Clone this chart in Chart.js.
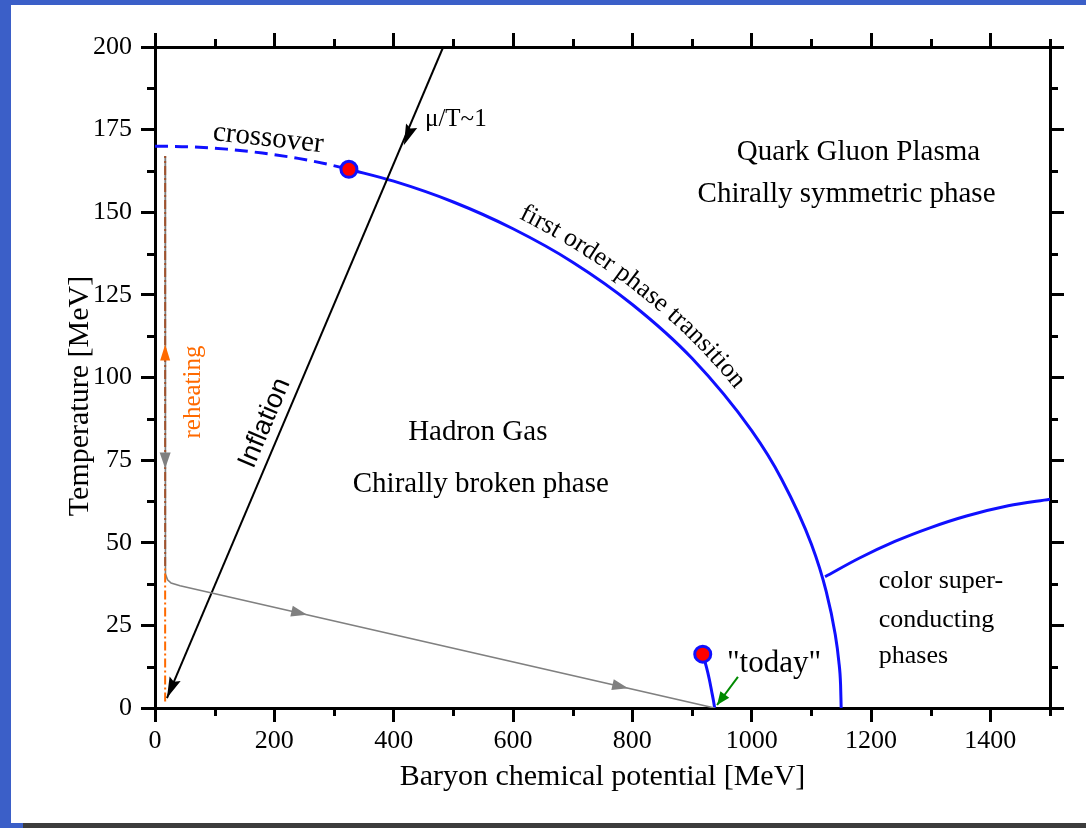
<!DOCTYPE html>
<html lang="en">
<head>
<meta charset="UTF-8">
<title>QCD phase diagram</title>
<script src="https://cdn.jsdelivr.net/npm/chart.js@4.4.1/dist/chart.umd.min.js"></script>
<style>
  html, body { margin: 0; padding: 0; }
  body { width: 1086px; height: 828px; background: #3b5fc8; position: relative; overflow: hidden; }
  #sheet { position: absolute; left: 11px; top: 5px; width: 1075px; height: 818px; background: #fff; }
  #foot { position: absolute; left: 23px; top: 823px; width: 1063px; height: 5px; background: #3c3c3c; }
  canvas { position: absolute; left: 0; top: 0; }
</style>
</head>
<body>
<div id="sheet"></div>
<div id="foot"></div>
<canvas id="c" width="1086" height="828"></canvas>
<script>
  // values (mu in MeV, T in MeV)
  const crossoverMu = [0, 60, 120, 180, 240, 290, 325];
  const crossoverT = [170, 169.8, 169.1, 167.9, 166.3, 164.5, 163];
  const firstOrderMu = [325, 400, 500, 600, 700, 800, 900, 1000, 1050, 1100, 1125, 1140, 1146, 1149, 1150];
  const firstOrderT = [163, 159.4, 153.1, 145.0, 134.9, 122.1, 105.8, 83.9, 69.3, 49.6, 35.2, 22.3, 14.2, 7.1, 0];
  const colorSupMu = [1123, 1180, 1240, 1300, 1360, 1430, 1500];
  const colorSupT = [39.7, 45.3, 50.4, 54.6, 58.1, 61.2, 63.2];
  const todayMu = [918, 924, 929, 933, 936, 938];
  const todayT = [16.3, 12.5, 8.7, 5.0, 2.2, 0];
  const inflationMu = [483, 20];
  const inflationT = [200, 3];
  const coolingMu = [17, 17, 18, 21, 27, 42, 938];
  const coolingT = [167, 43, 40.5, 38.8, 37.8, 37, 0];
  const reheatMu = [17, 17, 17];
  const reheatT = [2, 43, 167];
  const todayArrowMu = [977, 942];
  const todayArrowT = [9.4, 0.9];
  const criticalMu = [325, 918];
  const criticalT = [163, 16.3];

  const xTicks = [0, 200, 400, 600, 800, 1000, 1200, 1400];
  const yTicks = [0, 25, 50, 75, 100, 125, 150, 175, 200];
  const xMinor = [100, 300, 500, 700, 900, 1100, 1300, 1500];
  const yMinor = [12.5, 37.5, 62.5, 87.5, 112.5, 137.5, 162.5, 187.5];

  const BLUE = '#1010ff';
  const ORANGE = '#ff6a00';
  const GRAY = '#808080';
  const SERIF = 'Liberation Serif';

  const pts = (xs, ys) => xs.map((x, i) => ({x: x, y: ys[i]}));

  // arrow heads: tip and a point behind it (data coords)
  const arrows = [
    {tip: [417, 170.3], from: [483, 200], color: '#000', len: 21, w: 12, notch: 0.85},
    {tip: [20, 3], from: [483, 200], color: '#000', len: 21, w: 12, notch: 0.85},
    {tip: [17, 72.5], from: [17, 100], color: GRAY, len: 16, w: 11},
    {tip: [17, 110], from: [17, 90], color: ORANGE, len: 16, w: 10},
    {tip: [255, 28.2], from: [42, 37], color: GRAY, len: 16, w: 11},
    {tip: [793, 6.0], from: [42, 37], color: GRAY, len: 16, w: 11},
    {tip: [942, 0.9], from: [977, 9.4], color: '#008a00', len: 13, w: 11}
  ];

  const labels = [
    {text: 'Quark Gluon Plasma', x: 1179, y: 165.9, size: 29},
    {text: 'Chirally symmetric phase', x: 1159, y: 153.1, size: 29},
    {text: 'Hadron Gas', x: 541, y: 81.1, size: 29},
    {text: 'Chirally broken phase', x: 546, y: 65.4, size: 29},
    {text: 'color super-', x: 1213, y: 36.3, size: 26, align: 'left'},
    {text: 'conducting', x: 1213, y: 24.5, size: 26, align: 'left'},
    {text: 'phases', x: 1213, y: 13.6, size: 26, align: 'left'},
    {text: '"today"', x: 958.6, y: 11.0, size: 31, align: 'left'},
    {text: 'μ/T~1', x: 452.5, y: 176.1, size: 25, align: 'left'},
    {text: 'crossover', x: 188.5, y: 170, size: 29, rot: 0.112},
    {text: 'Inflation', x: 184, y: 86.2, size: 27, family: 'Liberation Sans', rot: 'inflation', base: 'middle'},
    {text: 'reheating', x: 63.7, y: 95.6, size: 25, color: ORANGE, rot: -Math.PI / 2, base: 'middle'}
  ];

  function arrowHead(ctx, tx, ty, fx, fy, a) {
    const ang = Math.atan2(ty - fy, tx - fx);
    ctx.save();
    ctx.translate(tx, ty);
    ctx.rotate(ang);
    ctx.beginPath();
    ctx.moveTo(0, 0);
    ctx.lineTo(-a.len, a.w / 2);
    ctx.lineTo(-a.len * (a.notch || 1), 0);
    ctx.lineTo(-a.len, -a.w / 2);
    ctx.closePath();
    ctx.fillStyle = a.color;
    ctx.fill();
    ctx.restore();
  }

  // sample the drawn bezier curve of a line dataset
  function curvePath(meta) {
    const p = meta.data, out = [];
    for (let i = 0; i < p.length - 1; i++) {
      const a = p[i], b = p[i + 1];
      const c1x = a.cp2x ?? a.x, c1y = a.cp2y ?? a.y;
      const c2x = b.cp1x ?? b.x, c2y = b.cp1y ?? b.y;
      for (let k = 0; k < 24; k++) {
        const t = k / 24, u = 1 - t;
        out.push({
          x: u * u * u * a.x + 3 * u * u * t * c1x + 3 * u * t * t * c2x + t * t * t * b.x,
          y: u * u * u * a.y + 3 * u * u * t * c1y + 3 * u * t * t * c2y + t * t * t * b.y
        });
      }
    }
    out.push({x: p[p.length - 1].x, y: p[p.length - 1].y});
    let s = 0;
    out[0].s = 0;
    for (let i = 1; i < out.length; i++) {
      s += Math.hypot(out[i].x - out[i - 1].x, out[i].y - out[i - 1].y);
      out[i].s = s;
    }
    return out;
  }

  function pointAt(path, s) {
    let i = 1;
    while (i < path.length - 1 && path[i].s < s) i++;
    const a = path[i - 1], b = path[i];
    const f = (s - a.s) / ((b.s - a.s) || 1);
    return {x: a.x + (b.x - a.x) * f, y: a.y + (b.y - a.y) * f};
  }

  function textAlongPath(ctx, path, text, startX, offset) {
    let s = 0;
    for (const q of path) { if (q.x >= startX) { s = q.s; break; } }
    for (const ch of text) {
      const w = ctx.measureText(ch).width;
      const m = s + w / 2;
      const p = pointAt(path, m);
      const p0 = pointAt(path, m - 8), p1 = pointAt(path, m + 8);
      const a = Math.atan2(p1.y - p0.y, p1.x - p0.x);
      ctx.save();
      ctx.translate(p.x + Math.sin(a) * offset, p.y - Math.cos(a) * offset);
      ctx.rotate(a);
      ctx.fillText(ch, 0, 0);
      ctx.restore();
      s += w;
    }
  }

  const decorations = {
    id: 'decorations',
    afterDatasetsDraw(chart) {
      const ctx = chart.ctx;
      const xs = chart.scales.x, ys = chart.scales.y;
      const area = chart.chartArea;
      ctx.save();

      // minor ticks on all four sides
      ctx.strokeStyle = '#000';
      ctx.lineWidth = 3;
      ctx.beginPath();
      for (const v of xMinor) {
        const px = Math.round(xs.getPixelForValue(v)) + 0.5;
        ctx.moveTo(px, area.bottom); ctx.lineTo(px, area.bottom + 8);
        ctx.moveTo(px, area.top); ctx.lineTo(px, area.top - 8);
      }
      for (const v of yMinor) {
        const py = Math.round(ys.getPixelForValue(v)) + 0.5;
        ctx.moveTo(area.left, py); ctx.lineTo(area.left - 8, py);
        ctx.moveTo(area.right, py); ctx.lineTo(area.right + 8, py);
      }
      ctx.stroke();

      // arrow heads
      for (const a of arrows) {
        arrowHead(ctx,
          xs.getPixelForValue(a.tip[0]), ys.getPixelForValue(a.tip[1]),
          xs.getPixelForValue(a.from[0]), ys.getPixelForValue(a.from[1]), a);
      }

      // labels
      const infAngle = Math.atan2(
        ys.getPixelForValue(inflationT[0]) - ys.getPixelForValue(inflationT[1]),
        xs.getPixelForValue(inflationMu[0]) - xs.getPixelForValue(inflationMu[1]));
      for (const l of labels) {
        ctx.save();
        ctx.font = l.size + 'px "' + (l.family || SERIF) + '"';
        ctx.fillStyle = l.color || '#000';
        ctx.textAlign = l.align || 'center';
        ctx.textBaseline = l.base || 'alphabetic';
        ctx.translate(xs.getPixelForValue(l.x), ys.getPixelForValue(l.y));
        if (l.rot) ctx.rotate(l.rot === 'inflation' ? infAngle : l.rot);
        ctx.fillText(l.text, 0, 0);
        ctx.restore();
      }

      // y axis title, a bit below the middle of the axis
      ctx.save();
      ctx.font = '30px "' + SERIF + '"';
      ctx.fillStyle = '#000';
      ctx.textAlign = 'center';
      ctx.textBaseline = 'middle';
      ctx.translate(80, 396);
      ctx.rotate(-Math.PI / 2);
      ctx.fillText('Temperature [MeV]', 0, 0);
      ctx.restore();

      // text following the first order line
      const path = curvePath(chart.getDatasetMeta(6));
      ctx.font = '26px "' + SERIF + '"';
      ctx.fillStyle = '#000';
      ctx.textAlign = 'center';
      ctx.textBaseline = 'alphabetic';
      textAlongPath(ctx, path, 'first order phase transition', xs.getPixelForValue(600), 12);

      ctx.restore();
    }
  };

  Chart.defaults.font.family = SERIF;
  Chart.defaults.color = '#000';

  const grid = {drawOnChartArea: false, drawTicks: true, tickLength: 14, tickWidth: 3, tickColor: '#000'};
  const border = {display: true, color: '#000', width: 3};
  const tickFont = {family: SERIF, size: 26};
  const line = (data, color, width, extra) => Object.assign({
    data: data, showLine: true, borderColor: color, borderWidth: width,
    pointRadius: 0, fill: false
  }, extra || {});

  new Chart(document.getElementById('c'), {
    type: 'scatter',
    data: {
      datasets: [
        {
          data: pts(criticalMu, criticalT), pointRadius: 8, pointBorderWidth: 3,
          backgroundColor: '#ff0000', borderColor: BLUE, pointHoverRadius: 8
        },
        line(pts(reheatMu, reheatT), ORANGE, 2, {
          borderDash: [9, 3, 2, 3],
          segment: {borderColor: c => c.p0DataIndex === 0 ? ORANGE : '#a0522d'}
        }),
        line(pts(coolingMu, coolingT), GRAY, 1.6),
        line(pts(inflationMu, inflationT), '#000', 2),
        line(pts(todayArrowMu, todayArrowT), '#008a00', 2),
        line(pts(crossoverMu, crossoverT), BLUE, 3, {borderDash: [13, 7], cubicInterpolationMode: 'monotone'}),
        line(pts(firstOrderMu, firstOrderT), BLUE, 3, {cubicInterpolationMode: 'monotone'}),
        line(pts(colorSupMu, colorSupT), BLUE, 3, {cubicInterpolationMode: 'monotone'}),
        line(pts(todayMu, todayT), BLUE, 3, {cubicInterpolationMode: 'monotone'})
      ]
    },
    options: {
      responsive: false,
      animation: false,
      devicePixelRatio: 1,
      layout: {padding: 0},
      plugins: {legend: {display: false}, tooltip: {enabled: false}},
      scales: {
        x: {
          type: 'linear', position: 'bottom', min: 0, max: 1500,
          afterBuildTicks: s => { s.ticks = xTicks.map(v => ({value: v})); },
          afterFit: s => { s.height = 120; },
          ticks: {font: tickFont, color: '#000', padding: 4, maxRotation: 0, autoSkip: false, callback: v => String(v)},
          grid: grid, border: border,
          title: {
            display: true, text: 'Baryon chemical potential [MeV]', color: '#000',
            font: {family: SERIF, size: 30}, padding: {top: 0, bottom: 33}
          }
        },
        x2: {
          type: 'linear', position: 'top', min: 0, max: 1500,
          afterBuildTicks: s => { s.ticks = xTicks.map(v => ({value: v})); },
          afterFit: s => { s.height = 47; },
          ticks: {display: false}, grid: grid, border: border
        },
        y: {
          type: 'linear', position: 'left', min: 0, max: 200,
          afterBuildTicks: s => { s.ticks = yTicks.map(v => ({value: v})); },
          afterFit: s => { s.width = 155; },
          ticks: {font: tickFont, color: '#000', padding: 9, callback: v => String(v)},
          grid: grid, border: border
        },
        y2: {
          type: 'linear', position: 'right', min: 0, max: 200,
          afterBuildTicks: s => { s.ticks = yTicks.map(v => ({value: v})); },
          afterFit: s => { s.width = 36; },
          ticks: {display: false}, grid: grid, border: border
        }
      }
    },
    plugins: [decorations]
  });
</script>
</body>
</html>
